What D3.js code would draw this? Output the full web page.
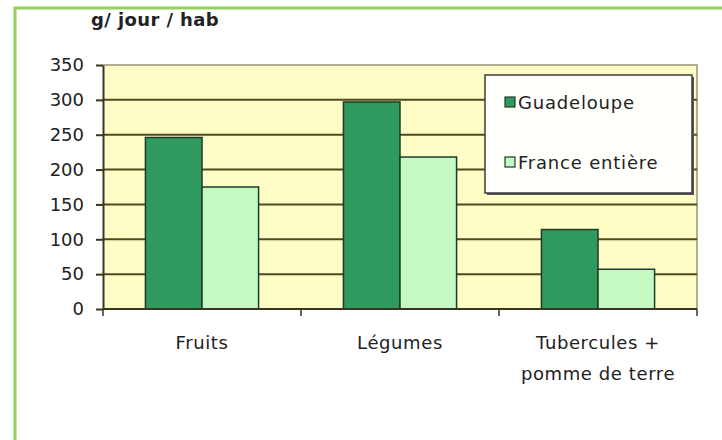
<!DOCTYPE html>
<html>
<head>
<meta charset="utf-8">
<script src="https://cdn.jsdelivr.net/npm/d3@7"></script>
<style>
  body { margin: 0; background: #fff; }
  text { font-family: "DejaVu Sans", sans-serif; fill: #222; }
</style>
</head>
<body>
<script>
// Chart values
const categories = ['Fruits', 'Légumes', 'Tubercules +\npomme de terre'];
const seriesNames = ['Guadeloupe', 'France entière'];
const guadeloupe = [246, 297, 114];
const franceEntiere = [175, 218, 57];
const yTicks = [0, 50, 100, 150, 200, 250, 300, 350];
const unitLabel = 'g/ jour / hab';

const colors = {Guadeloupe: '#2e9a5e', 'France entière': '#c4f9c4'};

// Run when the DOM is ready
document.addEventListener('DOMContentLoaded', () => {
  drawChart();
});

const drawChart = () => {
  const width = 722, height = 440;
  const plot = {left: 103, right: 697, top: 65, bottom: 309};

  const svg = d3.select('body').append('svg')
        .attr('width', width)
        .attr('height', height);

  // outer green frame
  svg.append('rect')
    .attr('x', 15).attr('y', 8)
    .attr('width', 740).attr('height', 460)
    .attr('fill', 'none')
    .attr('stroke', '#92cf5c')
    .attr('stroke-width', 3);

  // Scales ------------------------
  const x0 = d3.scaleBand()
        .domain(categories)
        .range([plot.left, plot.right])
        .paddingInner(1.5 / 3.5)
        .paddingOuter(0.75 / 3.5);

  const x1 = d3.scaleBand()
        .domain(seriesNames)
        .range([0, x0.bandwidth()]);

  const y = d3.scaleLinear()
        .domain([0, 350])
        .range([plot.bottom, plot.top]);

  // plot area background
  svg.append('rect')
    .attr('x', plot.left).attr('y', plot.top)
    .attr('width', plot.right - plot.left)
    .attr('height', plot.bottom - plot.top)
    .attr('fill', '#fffdc6');

  // top and right border of plot area
  svg.append('path')
    .attr('d', `M${plot.left},${y(350)}H${plot.right}V${plot.bottom}`)
    .attr('fill', 'none')
    .attr('stroke', '#b4ad92')
    .attr('stroke-width', 2);

  // gridlines
  svg.append('g')
    .selectAll('line')
    .data(yTicks.filter(d => d > 0 && d < 350))
    .enter().append('line')
    .attr('x1', plot.left).attr('x2', plot.right)
    .attr('y1', d => y(d)).attr('y2', d => y(d))
    .attr('stroke', '#4f4a22')
    .attr('stroke-width', 2);

  // Y-Axis -------------------------
  const yAxis = svg.append('g')
        .attr('transform', `translate(${plot.left},0)`)
        .call(d3.axisLeft(y)
              .tickValues(yTicks)
              .tickSize(7)
              .tickSizeOuter(0)
              .tickPadding(12));
  yAxis.select('.domain').attr('stroke', '#3a3520').attr('stroke-width', 2);
  yAxis.selectAll('.tick line').attr('stroke', '#3a3520').attr('stroke-width', 2);
  yAxis.selectAll('.tick text')
    .attr('font-size', 18)
    .attr('font-family', '"DejaVu Sans", sans-serif')
    .attr('fill', '#333');

  // Bars ---------------------------
  const rows = categories.map((c, i) => ({
    category: c,
    values: [
      {name: seriesNames[0], value: guadeloupe[i]},
      {name: seriesNames[1], value: franceEntiere[i]}
    ]
  }));

  svg.append('g')
    .selectAll('g')
    .data(rows)
    .enter().append('g')
    .attr('transform', d => `translate(${x0(d.category)},0)`)
    .selectAll('rect')
    .data(d => d.values)
    .enter().append('rect')
    .attr('x', d => x1(d.name))
    .attr('y', d => y(d.value))
    .attr('width', x1.bandwidth())
    .attr('height', d => y(0) - y(d.value))
    .attr('fill', d => colors[d.name])
    .attr('stroke', '#1f3a28')
    .attr('stroke-width', 1.5);

  // X-Axis -------------------------
  const step = x0.step();
  const gap = step - x0.bandwidth();
  const bounds = categories.map(c => x0(c) - gap / 2);
  bounds.push(plot.right);

  const xAxis = svg.append('g');
  xAxis.append('line')
    .attr('x1', plot.left).attr('x2', plot.right)
    .attr('y1', y(0)).attr('y2', y(0))
    .attr('stroke', '#3a3520')
    .attr('stroke-width', 2);
  xAxis.selectAll('line.tick')
    .data(bounds)
    .enter().append('line')
    .attr('class', 'tick')
    .attr('x1', d => d).attr('x2', d => d)
    .attr('y1', y(0)).attr('y2', y(0) + 7)
    .attr('stroke', '#3a3520')
    .attr('stroke-width', 1.5);

  const labels = xAxis.selectAll('text.cat')
        .data(categories)
        .enter().append('text')
        .attr('class', 'cat')
        .attr('text-anchor', 'middle')
        .attr('font-size', 18)
        .attr('letter-spacing', 0.6)
        .attr('fill', '#333');
  labels.selectAll('tspan')
    .data(d => d.split('\n').map(t => ({t, x: x0(d) + x0.bandwidth() / 2})))
    .enter().append('tspan')
    .attr('x', d => d.x)
    .attr('y', (d, i) => 349 + i * 31)
    .text(d => d.t);

  // unit label
  svg.append('text')
    .attr('x', 91).attr('y', 26)
    .attr('font-size', 18)
    .attr('font-weight', 'bold')
    .attr('letter-spacing', 0.4)
    .attr('fill', '#333')
    .text(unitLabel);

  // Legend -------------------------
  const legend = svg.append('g');
  legend.append('rect')
    .attr('x', 487).attr('y', 77)
    .attr('width', 207).attr('height', 118)
    .attr('fill', '#555');
  legend.append('rect')
    .attr('x', 485).attr('y', 75)
    .attr('width', 207).attr('height', 118)
    .attr('fill', '#fffffb')
    .attr('stroke', '#3d3d3d')
    .attr('stroke-width', 1.5);

  const items = legend.selectAll('g.item')
        .data(seriesNames)
        .enter().append('g')
        .attr('class', 'item')
        .attr('transform', (d, i) => `translate(505,${102 + i * 60})`);
  items.append('rect')
    .attr('x', 0).attr('y', -5)
    .attr('width', 10).attr('height', 10)
    .attr('fill', d => colors[d])
    .attr('stroke', '#1f3a28')
    .attr('stroke-width', 1.2);
  items.append('text')
    .attr('x', 13).attr('y', 7)
    .attr('font-size', 18)
    .attr('letter-spacing', 0.8)
    .attr('fill', '#333')
    .text(d => d);
}
</script>
</body>
</html>
